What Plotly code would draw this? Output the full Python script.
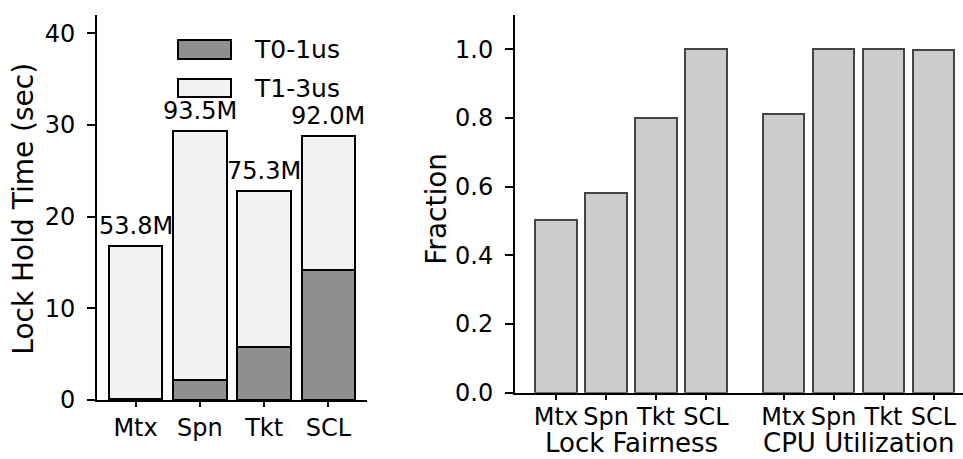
import plotly.graph_objects as go

# ---------------- data ----------------
locks = ["Mtx", "Spn", "Tkt", "SCL"]
t0_1us = [0.1, 2.2, 5.75, 14.2]          # seconds
t1_3us = [16.7, 27.1, 17.05, 14.6]       # seconds
count_labels = ["53.8M", "93.5M", "75.3M", "92.0M"]

fairness = [0.504, 0.582, 0.80, 1.0]
cpu_util = [0.812, 1.0, 1.0, 0.997]
group_names = ["Lock Fairness", "CPU Utilization"]

left_yticks = [0, 10, 20, 30, 40]
right_yticks = [0.0, 0.2, 0.4, 0.6, 0.8, 1.0]

# ---------------- layout helpers ----------------
W, H = 963, 459
FONT = "DejaVu Sans"
def px_x(p): return p / W
def px_y(p): return (H - p) / H

GROUP_GAP = 1.55
xpos_left = list(range(len(locks)))
xpos_fair = [i for i in range(len(locks))]
xpos_cpu = [i + len(locks) - 1 + GROUP_GAP for i in range(len(locks))]
totals = [a + b for a, b in zip(t0_1us, t1_3us)]

DARK = "#8f8f8f"
LIGHT = "#f2f2f2"
RBAR = "#cccccc"
REDGE = "#444444"

fig = go.Figure()

fig.add_trace(go.Bar(x=xpos_left, y=t0_1us, name="T0-1us", width=0.83,
                     marker=dict(color=DARK, line=dict(color="black", width=2)),
                     xaxis="x", yaxis="y", showlegend=False))
fig.add_trace(go.Bar(x=xpos_left, y=t1_3us, name="T1-3us", width=0.83,
                     marker=dict(color=LIGHT, line=dict(color="black", width=2)),
                     xaxis="x", yaxis="y", showlegend=False))

fig.add_trace(go.Bar(x=xpos_fair, y=fairness, width=0.83,
                     marker=dict(color=RBAR, line=dict(color=REDGE, width=2)),
                     xaxis="x2", yaxis="y2", showlegend=False))
fig.add_trace(go.Bar(x=xpos_cpu, y=cpu_util, width=0.83,
                     marker=dict(color=RBAR, line=dict(color=REDGE, width=2)),
                     xaxis="x2", yaxis="y2", showlegend=False))

xtickfont = dict(family=FONT, size=24, color="black")
ytickfont = dict(family=FONT, size=24, color="black")
axis_common = dict(showgrid=False, zeroline=False, showline=True, linecolor="black",
                   linewidth=2, ticks="outside", tickcolor="black", tickwidth=2,
                   automargin=False)
minor_axis = dict(showticklabels=False, ticks="outside", ticklen=9, tickwidth=2,
                  tickcolor="black", showline=False, showgrid=False, zeroline=False,
                  automargin=False)

fig.update_layout(
    template="none",
    font=dict(family=FONT, color="black"),
    width=W, height=H, margin=dict(l=0, r=0, t=0, b=0, pad=0),
    paper_bgcolor="white", plot_bgcolor="white",
    barmode="stack", showlegend=False,
    xaxis=dict(domain=[px_x(97), px_x(367)], range=[-0.6, 3.6], anchor="y",
               tickvals=xpos_left, ticktext=locks, ticklen=5, tickfont=xtickfont,
               **axis_common),
    xaxis3=dict(overlaying="x", anchor="y", range=[-0.6, 3.6], tickvals=[1.5],
                **minor_axis),
    yaxis=dict(domain=[px_y(400), px_y(15)], range=[0, 42], anchor="x",
               tickvals=left_yticks, ticklen=8, ticklabelstandoff=7,
               tickfont=ytickfont, **axis_common),
    xaxis2=dict(domain=[px_x(515), 1.0], range=[-0.82, 8.14], anchor="y2",
                tickvals=xpos_fair + xpos_cpu, ticktext=locks + locks, ticklen=5,
                ticklabelstandoff=-4, tickfont=xtickfont, **axis_common),
    xaxis4=dict(overlaying="x2", anchor="y2", range=[-0.82, 8.14],
                tickvals=[sum(xpos_fair) / 4, sum(xpos_cpu) / 4], **minor_axis),
    yaxis2=dict(domain=[px_y(392.7), px_y(15)], range=[0, 1.1], anchor="x2",
                tickvals=right_yticks, tickformat=".1f", ticklen=8,
                ticklabelstandoff=7, tickfont=ytickfont, **axis_common),
)

annotations = []
for x, tot, lab in zip(xpos_left, totals, count_labels):
    annotations.append(dict(x=x, y=tot, xref="x", yref="y", text=lab, showarrow=False,
                            yanchor="bottom", yshift=4,
                            font=dict(family=FONT, size=24, color="black")))
for xs, name in zip([xpos_fair, xpos_cpu], group_names):
    annotations.append(dict(x=sum(xs) / len(xs), y=0, xref="x2", yref="paper",
                            text=name, showarrow=False, yanchor="bottom",
                            xanchor="center", borderpad=0,
                            font=dict(family=FONT, size=26, color="black")))
annotations.append(dict(x=px_x(24), y=px_y(208.7), xref="paper", yref="paper",
                        text="Lock Hold Time (sec)", textangle=-90, showarrow=False,
                        xanchor="center", yanchor="middle",
                        font=dict(family=FONT, size=28, color="black")))
annotations.append(dict(x=px_x(437), y=px_y(208.7), xref="paper", yref="paper",
                        text="Fraction", textangle=-90, showarrow=False,
                        xanchor="center", yanchor="middle",
                        font=dict(family=FONT, size=28, color="black")))

# legend (drawn manually to match the wide patches)
legend_items = [("T0-1us", DARK, 40, 59), ("T1-3us", LIGHT, 79, 97)]
shapes = []
for name, col, ytop, ybot in legend_items:
    shapes.append(dict(type="rect", xref="paper", yref="paper",
                       x0=px_x(178), x1=px_x(231), y0=px_y(ybot), y1=px_y(ytop),
                       fillcolor=col, line=dict(color="black", width=2)))
    annotations.append(dict(x=px_x(252), y=px_y((ytop + ybot) / 2), xref="paper",
                            yref="paper", text=name, showarrow=False, xanchor="left",
                            yanchor="middle",
                            font=dict(family=FONT, size=25, color="black")))

fig.update_layout(annotations=annotations, shapes=shapes)
fig.write_html("out.html")
